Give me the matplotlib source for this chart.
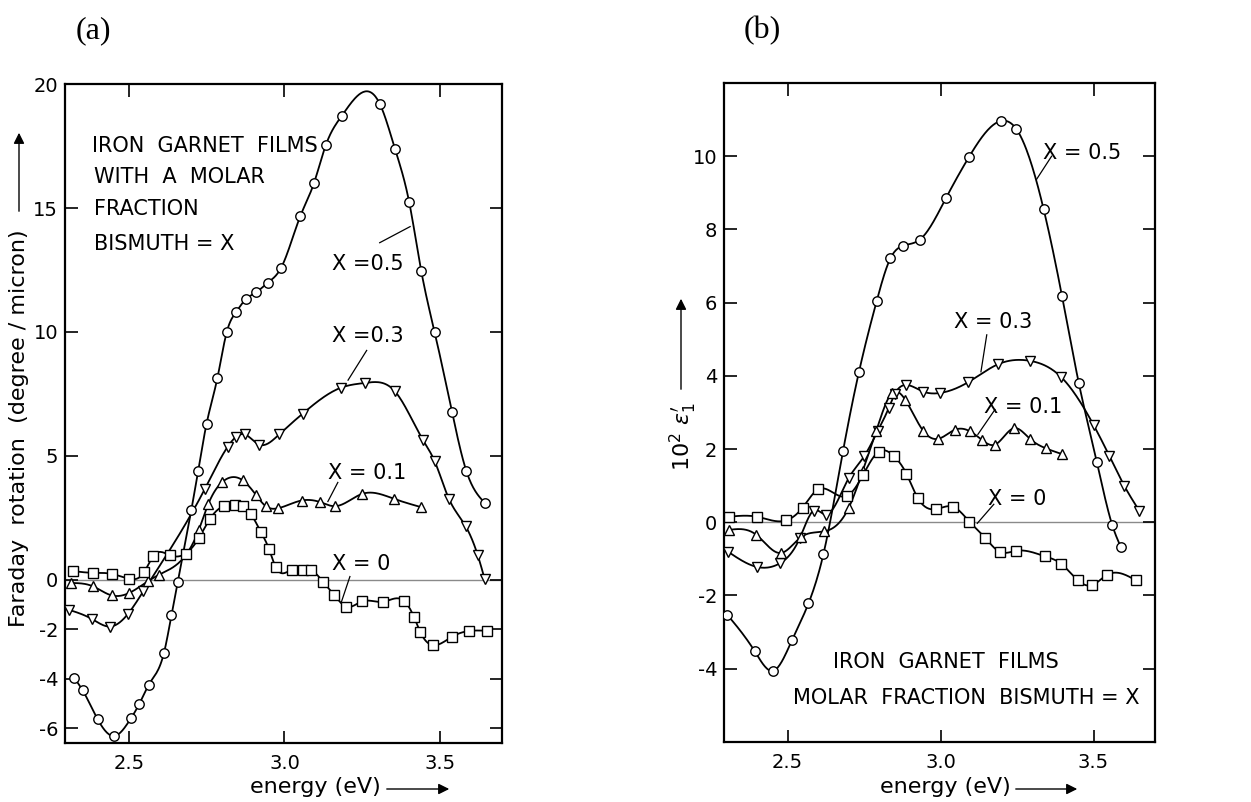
import numpy as np
import matplotlib
matplotlib.use("Agg")
import matplotlib.pyplot as plt

plt.rcParams['font.family'] = ['Liberation Sans Narrow', 'DejaVu Sans']

# ---------------- data: panel (a) Faraday rotation ----------------
a_x05 = [2.322, 2.350, 2.398, 2.451, 2.505, 2.532, 2.563, 2.612, 2.636, 2.656, 2.700, 2.722, 2.749,
         2.784, 2.814, 2.844, 2.875, 2.909, 2.946, 2.989, 3.051, 3.095, 3.133, 3.184, 3.308, 3.356,
         3.402, 3.441, 3.484, 3.540, 3.586, 3.645]
a_y05 = [-3.97, -4.48, -5.64, -6.32, -5.61, -5.03, -4.24, -2.95, -1.43, -0.11, 2.81, 4.39, 6.29,
         8.14, 9.99, 10.80, 11.31, 11.60, 11.98, 12.58, 14.67, 16.00, 17.53, 18.71, 19.19, 17.40,
         15.24, 12.45, 9.99, 6.77, 4.39, 3.10]

a_x03 = [2.305, 2.379, 2.438, 2.495, 2.545, 2.744, 2.817, 2.845, 2.872, 2.918, 2.983, 3.059, 3.181,
         3.261, 3.356, 3.447, 3.484, 3.530, 3.584, 3.623, 3.645]
a_y03 = [-1.22, -1.59, -1.90, -1.40, -0.48, 3.67, 5.36, 5.77, 5.86, 5.45, 5.86, 6.70, 7.74,
         7.94, 7.60, 5.62, 4.78, 3.26, 2.15, 0.98, 0.03]

a_x01 = [2.312, 2.382, 2.443, 2.500, 2.560, 2.597, 2.724, 2.754, 2.800, 2.865, 2.908, 2.940, 2.980,
         3.055, 3.114, 3.162, 3.251, 3.353, 3.441]
a_y01 = [-0.14, -0.27, -0.64, -0.54, -0.07, 0.20, 2.00, 3.03, 3.94, 4.01, 3.42, 2.96, 2.88,
         3.19, 3.13, 2.96, 3.46, 3.26, 2.92]

a_x00 = [2.320, 2.382, 2.443, 2.500, 2.548, 2.577, 2.631, 2.682, 2.724, 2.760, 2.805, 2.840, 2.868,
         2.893, 2.925, 2.950, 2.972, 3.025, 3.060, 3.085, 3.125, 3.160, 3.200, 3.251, 3.318, 3.385,
         3.417, 3.438, 3.479, 3.540, 3.594, 3.652]
a_y00 = [0.34, 0.27, 0.23, 0.03, 0.30, 0.95, 0.98, 1.05, 1.67, 2.45, 2.96, 3.00, 2.98,
         2.63, 1.90, 1.24, 0.50, 0.40, 0.40, 0.38, -0.10, -0.62, -1.10, -0.88, -0.90, -0.86,
         -1.50, -2.13, -2.65, -2.31, -2.08, -2.07]

# ---------------- data: panel (b) 10^2 eps1' ----------------
b_x05 = [2.303, 2.392, 2.453, 2.514, 2.568, 2.617, 2.681, 2.733, 2.791, 2.836, 2.876, 2.932, 3.018,
         3.093, 3.196, 3.248, 3.337, 3.397, 3.452, 3.511, 3.561, 3.590]
b_y05 = [-2.53, -3.52, -4.06, -3.23, -2.22, -0.87, 1.94, 4.10, 6.04, 7.21, 7.55, 7.72, 8.86,
         9.98, 10.96, 10.74, 8.55, 6.18, 3.80, 1.64, -0.07, -0.69]

b_x03 = [2.306, 2.399, 2.475, 2.540, 2.585, 2.625, 2.700, 2.750, 2.795, 2.830, 2.850, 2.887, 2.943,
         2.997, 3.091, 3.189, 3.292, 3.395, 3.500, 3.552, 3.601, 3.650]
b_y03 = [-0.81, -1.22, -1.12, -0.43, 0.32, 0.21, 1.21, 1.80, 2.50, 3.11, 3.50, 3.75, 3.57,
         3.53, 3.83, 4.32, 4.41, 3.96, 2.66, 1.81, 0.99, 0.31]

b_x01 = [2.307, 2.397, 2.478, 2.545, 2.620, 2.700, 2.745, 2.790, 2.840, 2.885, 2.943, 2.993, 3.048,
         3.097, 3.135, 3.178, 3.240, 3.292, 3.344, 3.398]
b_y01 = [-0.21, -0.34, -0.84, -0.40, -0.25, 0.40, 1.39, 2.50, 3.52, 3.34, 2.50, 2.28, 2.53,
         2.48, 2.25, 2.12, 2.57, 2.28, 2.02, 1.86]

b_x00 = [2.308, 2.400, 2.495, 2.549, 2.600, 2.695, 2.747, 2.798, 2.847, 2.888, 2.925, 2.986, 3.042,
         3.094, 3.145, 3.194, 3.248, 3.341, 3.395, 3.449, 3.495, 3.544, 3.639]
b_y00 = [0.15, 0.15, 0.05, 0.40, 0.90, 0.72, 1.30, 1.93, 1.81, 1.33, 0.67, 0.36, 0.42,
         0.02, -0.42, -0.81, -0.78, -0.93, -1.14, -1.59, -1.72, -1.44, -1.59]

a_yticks = [-6, -4, -2, 0, 5, 10, 15, 20]
b_yticks = [-4, -2, 0, 2, 4, 6, 8, 10]
xticks = [2.5, 3.0, 3.5]


def spline(x, y, n=400):
    x = np.asarray(x, float)
    y = np.asarray(y, float)
    m = len(x)
    h = np.diff(x)
    A = np.zeros((m, m))
    r = np.zeros(m)
    A[0, 0] = A[-1, -1] = 1
    for i in range(1, m - 1):
        A[i, i - 1] = h[i - 1]
        A[i, i] = 2 * (h[i - 1] + h[i])
        A[i, i + 1] = h[i]
        r[i] = 6 * ((y[i + 1] - y[i]) / h[i] - (y[i] - y[i - 1]) / h[i - 1])
    M = np.linalg.solve(A, r)
    xs = np.linspace(x[0], x[-1], n)
    idx = np.clip(np.searchsorted(x, xs) - 1, 0, m - 2)
    x0, x1 = x[idx], x[idx + 1]
    hh = x1 - x0
    t0 = x1 - xs
    t1 = xs - x0
    ys = (M[idx] * t0 ** 3 / (6 * hh) + M[idx + 1] * t1 ** 3 / (6 * hh)
          + (y[idx] / hh - M[idx] * hh / 6) * t0 + (y[idx + 1] / hh - M[idx + 1] * hh / 6) * t1)
    return xs, ys


fig = plt.figure(figsize=(12.51, 8.02), dpi=100)
axa = fig.add_axes([0.052, 0.0736, 0.349, 0.8214])
axb = fig.add_axes([0.579, 0.075, 0.344, 0.8215])

mk = dict(markersize=6.8, markerfacecolor='white', markeredgecolor='black',
          markeredgewidth=1.0, linestyle='none', zorder=4)


def draw(ax, x, y, marker):
    xs, ys = spline(x, y)
    ax.plot(xs, ys, color='black', lw=1.3, zorder=3)
    ax.plot(x, y, marker=marker, **mk)


for ax in (axa, axb):
    ax.axhline(0, color='#8a8a8a', lw=1.0, zorder=1)
    ax.set_xlim(2.293, 3.70)
    ax.set_xticks(xticks)
    ax.set_xticklabels(['2.5', '3.0', '3.5'])
    ax.tick_params(direction='in', length=9, width=1.2, top=True, right=True,
                   labelsize=14, pad=5)
    ax.tick_params(axis='x', pad=8)
    for s in ax.spines.values():
        s.set_linewidth(1.6)

draw(axa, a_x05, a_y05, 'o')
draw(axa, a_x03, a_y03, 'v')
draw(axa, a_x01, a_y01, '^')
draw(axa, a_x00, a_y00, 's')
axa.set_ylim(-6.6, 20.0)
axa.set_yticks(a_yticks)
axa.set_yticklabels([str(v) for v in a_yticks])

draw(axb, b_x05, b_y05, 'o')
draw(axb, b_x03, b_y03, 'v')
draw(axb, b_x01, b_y01, '^')
draw(axb, b_x00, b_y00, 's')
axb.set_ylim(-6.0, 12.0)
axb.set_yticks(b_yticks)
axb.set_yticklabels([str(v) for v in b_yticks])

# annotations panel (a)
tk = dict(fontsize=15, ha='left', va='center')
axa.text(2.38, 17.5, 'IRON  GARNET  FILMS', **tk)
axa.text(2.385, 16.25, 'WITH  A  MOLAR', **tk)
axa.text(2.385, 14.95, 'FRACTION', **tk)
axa.text(2.385, 13.55, 'BISMUTH = X', **tk)
lab = dict(fontsize=15, ha='center', va='center')
axa.text(3.268, 12.73, 'X =0.5', **lab)
axa.plot([3.307, 3.405], [13.6, 14.25], color='black', lw=0.9)
axa.text(3.268, 9.82, 'X =0.3', **lab)
axa.plot([3.265, 3.205], [9.25, 8.05], color='black', lw=0.9)
axa.text(3.265, 4.32, 'X = 0.1', **lab)
axa.plot([3.172, 3.140], [3.92, 3.15], color='black', lw=0.9)
axa.text(3.246, 0.61, 'X = 0', **lab)
axa.plot([3.211, 3.184], [0.12, -0.89], color='black', lw=0.9)

# annotations panel (b)
axb.text(3.464, 10.08, 'X = 0.5', **lab)
axb.plot([3.363, 3.314], [10.0, 9.37], color='black', lw=0.9)
axb.text(3.171, 5.48, 'X = 0.3', **lab)
axb.plot([3.151, 3.132], [5.12, 4.11], color='black', lw=0.9)
axb.text(3.269, 3.16, 'X = 0.1', **lab)
axb.plot([3.178, 3.122], [3.08, 2.40], color='black', lw=0.9)
axb.text(3.249, 0.63, 'X = 0', **lab)
axb.plot([3.174, 3.12], [0.49, -0.03], color='black', lw=0.9)
axb.text(3.018, -3.81, 'IRON  GARNET  FILMS', **lab)
axb.text(3.083, -4.80, 'MOLAR  FRACTION  BISMUTH = X', **lab)

# axis labels with arrows (figure pixel coordinates)
W, H = 1251.0, 802.0


def fx(p):
    return p / W


def fy(p):
    return 1 - p / H


fig.text(fx(19), fy(428), 'Faraday  rotation  (degree / micron)', rotation=90,
         ha='center', va='center', fontsize=16)
fig.add_artist(matplotlib.patches.FancyArrowPatch((fx(19), fy(214)), (fx(19), fy(130)),
               transform=fig.transFigure, arrowstyle='-|>', mutation_scale=16, lw=1.0, color='black'))

fig.text(fx(315), fy(787), 'energy (eV)', ha='center', va='center', fontsize=16)
fig.add_artist(matplotlib.patches.FancyArrowPatch((fx(384), fy(789)), (fx(452), fy(789)),
               transform=fig.transFigure, arrowstyle='-|>', mutation_scale=16, lw=1.0, color='black'))

fig.text(fx(945), fy(787), 'energy (eV)', ha='center', va='center', fontsize=16)
fig.add_artist(matplotlib.patches.FancyArrowPatch((fx(1013), fy(789)), (fx(1080), fy(789)),
               transform=fig.transFigure, arrowstyle='-|>', mutation_scale=16, lw=1.0, color='black'))

fig.text(fx(683), fy(437), r'$10^{2}\ \epsilon^{\prime}_{1}$', rotation=90,
         ha='center', va='center', fontsize=16)
fig.add_artist(matplotlib.patches.FancyArrowPatch((fx(681), fy(392)), (fx(681), fy(296)),
               transform=fig.transFigure, arrowstyle='-|>', mutation_scale=16, lw=1.0, color='black'))

fig.text(fx(93), fy(31), '(a)', ha='center', va='center', fontsize=23,
         family=['Liberation Serif', 'DejaVu Serif'])
fig.text(fx(762), fy(31), '(b)', ha='center', va='center', fontsize=23,
         family=['Liberation Serif', 'DejaVu Serif'])

fig.savefig('out.png', dpi=100)
